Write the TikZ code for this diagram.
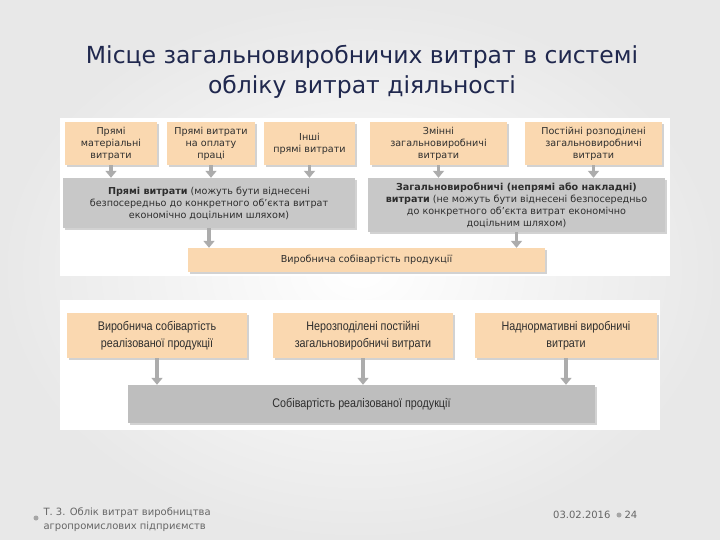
\documentclass[tikz,border=0pt]{standalone}
\usepackage{fontspec}
\setmainfont{DejaVu Sans}
\newfontfamily\titlefont{DejaVu Sans}
\newfontfamily\narrowfont[FakeStretch=0.86]{Liberation Sans}
\usepackage{xcolor}
\usetikzlibrary{positioning,arrows.meta,calc,shadows}
\definecolor{peach}{RGB}{250,216,176}
\definecolor{grbox}{RGB}{200,200,200}
\definecolor{titleblue}{RGB}{32,40,78}

\begin{document}
\begin{tikzpicture}[x=1pt,y=1pt,
    >={Triangle[width=11pt,length=7pt]},
    box/.style={fill=peach, align=center, font=\fontsize{9.6}{12}\selectfont, text=black!82,
                inner sep=1pt, drop shadow={opacity=0.35, shadow xshift=1.8pt, shadow yshift=-1.8pt}},
    gbox/.style={box, fill=grbox},
    lbox/.style={box, font=\narrowfont\fontsize{12.5}{17}\selectfont},
    arr/.style={->, line width=3.2pt, draw=gray!65, color=gray!65},
    foot/.style={font=\titlefont\fontsize{10}{14}\selectfont, text=gray!80!black},
  ]
    % тло слайда
    \shade[inner color=white, outer color=gray!18] (0,0) rectangle (720,-540);
    \path[use as bounding box] (0,0) rectangle (720,-540);
    \fill[white] (60,-118) rectangle (670,-276);
    \fill[white] (60,-300) rectangle (660,-430);

    \node[font=\titlefont\fontsize{23.5}{30}\selectfont, text=titleblue, align=center] (ttl) at (362,-72)
      {Місце загальновиробничих витрат в системі\\обліку витрат діяльності};

    % верхня схема
    \node[box, minimum width=92, minimum height=43] (m1) at (111,-143.5) {Прямі\\матеріальні\\витрати};
    \node[box, minimum width=88, minimum height=43] (m2) at (211,-143.5) {Прямі витрати\\на оплату\\праці};
    \node[box, minimum width=91, minimum height=43] (m3) at (309.5,-143.5) {Інші\\прямі витрати};
    \node[box, minimum width=137, minimum height=43] (m4) at (438.5,-143.5) {Змінні\\загальновиробничі\\витрати};
    \node[box, minimum width=137, minimum height=43] (m5) at (593.5,-143.5) {Постійні розподілені\\загальновиробничі\\витрати};

    \node[gbox, minimum width=292, minimum height=50] (pr) at (209,-203)
      {\textbf{Прямі витрати} (можуть бути віднесені\\безпосередньо до конкретного об'єкта витрат\\економічно доцільним шляхом)};
    \node[gbox, minimum width=297, minimum height=54] (zv) at (516.5,-205)
      {\textbf{Загальновиробничі (непрямі або накладні)}\\\textbf{витрати} (не можуть бути віднесені безпосередньо\\до конкретного об'єкта витрат економічно\\доцільним шляхом)};
    \node[box, minimum width=357, minimum height=24] (vs) at (366.5,-260) {Виробнича собівартість продукції};

    \foreach \m in {m1,m2,m3} \draw[arr] (\m) -- (\m |- pr.north);
    \foreach \m in {m4,m5} \draw[arr] (\m) -- (\m |- zv.north);
    \draw[arr] (pr) -- (pr |- vs.north);
    \draw[arr] (zv) -- (zv |- vs.north);

    % нижня схема
    \node[lbox, minimum width=180, minimum height=45] (b1) at (157,-335.5) {Виробнича собівартість\\реалізованої продукції};
    \node[lbox, minimum width=180, minimum height=45] (b2) at (363,-335.5) {Нерозподілені постійні\\загальновиробничі витрати};
    \node[lbox, minimum width=182, minimum height=45] (b3) at (566,-335.5) {Наднормативні виробничі\\витрати};
    \node[lbox, fill=grbox!95!black, minimum width=467, minimum height=38] (sr) at (361.5,-404) {Собівартість реалізованої продукції};
    \foreach \b in {b1,b2,b3} \draw[arr] (\b) -- (\b |- sr.north);

    % нижній колонтитул
    \fill[gray!70] (36,-518) circle (2.5);
    \node[foot, align=left, anchor=west] (ft) at (40,-520)
      {Т. 3. Облік витрат виробництва\\агропромислових підприємств};
    \node[foot, anchor=east] (dt) at (614,-515) {03.02.2016};
    \fill[gray!70] (619,-515) circle (2.5);
    \node[foot, anchor=west] (pg) at (621,-515) {24};
\end{tikzpicture}
\end{document}
